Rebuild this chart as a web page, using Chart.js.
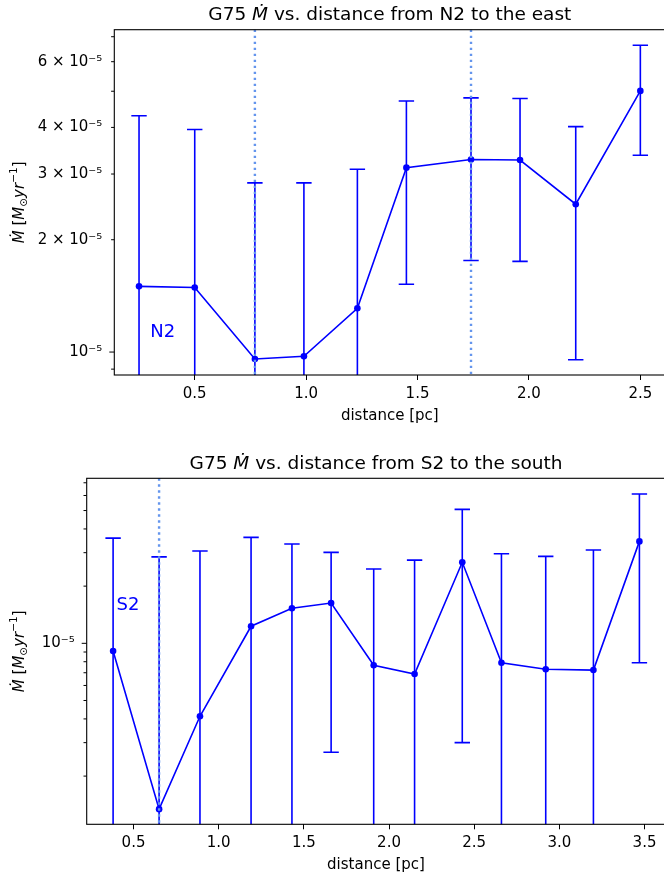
<!DOCTYPE html>
<html>
<head>
<meta charset="utf-8">
<script src="https://cdn.jsdelivr.net/npm/chart.js@4.4.1/dist/chart.umd.min.js"></script>
<style>
    html, body { margin: 0; padding: 0; background: #fff; width: 664px; height: 882px; overflow: hidden; }
    .plot { position: absolute; left: 0; width: 670px; height: 441px; }
</style>
</head>
<body>
<div class="plot" style="top:0"><canvas id="north" width="670" height="441"></canvas></div>
<div class="plot" style="top:441px"><canvas id="south" width="670" height="441"></canvas></div>
<script>
// N2 -> east
const nDist = [0.25, 0.50, 0.77, 0.99, 1.23, 1.45, 1.74, 1.96, 2.21, 2.50];
const nMdot = [1.50e-5, 1.49e-5, 0.958e-5, 0.974e-5, 1.31e-5, 3.12e-5, 3.28e-5, 3.27e-5, 2.49e-5, 5.01e-5];
const nUpper = [4.30e-5, 3.95e-5, 2.84e-5, 2.84e-5, 3.09e-5, 4.71e-5, 4.80e-5, 4.78e-5, 4.02e-5, 6.64e-5];
const nLower = [null, null, null, null, null, 1.52e-5, 1.76e-5, 1.75e-5, 0.954e-5, 3.37e-5]; // null = below the axis
const nMarks = [0.77, 1.74];
const nXLim = [0.139, 2.612];
const nYLim = [8.68e-6, 7.31e-5];
const nXTicks = [0.5, 1.0, 1.5, 2.0, 2.5];
const nYTicks = [7e-5, 6e-5, 5e-5, 4e-5, 3e-5, 2e-5, 1e-5, 9e-6];
const nYLabels = ['', '6 × 10⁻⁵', '', '4 × 10⁻⁵', '3 × 10⁻⁵', '2 × 10⁻⁵', '10⁻⁵', ''];

// S2 -> south
const sDist = [0.38, 0.65, 0.89, 1.19, 1.43, 1.66, 1.91, 2.15, 2.43, 2.66, 2.92, 3.20, 3.47];
const sMdot = [9.1e-6, 1.34e-6, 4.13e-6, 1.23e-5, 1.53e-5, 1.63e-5, 7.66e-6, 6.89e-6, 2.67e-5, 7.9e-6, 7.3e-6, 7.23e-6, 3.44e-5];
const sUpper = [3.58e-5, 2.85e-5, 3.06e-5, 3.61e-5, 3.33e-5, 3.01e-5, 2.46e-5, 2.74e-5, 5.07e-5, 2.96e-5, 2.87e-5, 3.10e-5, 6.11e-5];
const sLower = [null, null, null, null, null, 2.67e-6, null, null, 3.0e-6, null, null, null, 7.9e-6];
const sMarks = [0.65];
const sXLim = [0.225, 3.622];
const sYLim = [1.115e-6, 7.39e-5];
const sXTicks = [0.5, 1.0, 1.5, 2.0, 2.5, 3.0, 3.5];
const sYTicks = [7e-5, 6e-5, 5e-5, 4e-5, 3e-5, 2e-5, 1e-5, 9e-6, 8e-6, 7e-6, 6e-6, 5e-6, 4e-6, 3e-6, 2e-6];
const sYLabels = ['', '', '', '', '', '', '10⁻⁵', '', '', '', '', '', '', '', ''];

const FAM = "'DejaVu Sans', sans-serif";
const BLUE = '#0000ff';

function partFont(p, size) {
    const s = (p.sub || p.sup) ? size * 0.7 : size;
    return (p.it ? 'italic ' : '') + s + 'px ' + FAM;
}

// draws mixed italic / sub / sup text, anchored at centre, alphabetic baseline
function drawRich(ctx, parts, x, y, size) {
    let w = 0;
    parts.forEach(p => { ctx.font = partFont(p, size); w += ctx.measureText(p.t).width; });
    let cx = x - w / 2;
    ctx.textAlign = 'left';
    ctx.textBaseline = 'alphabetic';
    parts.forEach(p => {
        ctx.font = partFont(p, size);
        const dy = p.sub ? size * 0.22 : p.sup ? -size * 0.42 : 0;
        ctx.fillText(p.t, cx, y + dy);
        cx += ctx.measureText(p.t).width;
    });
}

const yLabelParts = [
    { t: 'Ṁ', it: true }, { t: ' [' }, { t: 'M', it: true }, { t: '⊙', sub: true },
    { t: 'yr', it: true }, { t: '−1', sup: true }, { t: ']' }
];

const decorate = {
    id: 'decorate',
    beforeDatasetsDraw(chart, args, o) {
        const { ctx, chartArea: a, scales: { x, y } } = chart;
        ctx.save();
        ctx.beginPath();
        ctx.rect(a.left, a.top, a.right - a.left, a.bottom - a.top);
        ctx.clip();
        ctx.strokeStyle = BLUE;
        ctx.lineWidth = 1.6;
        o.dist.forEach((d, i) => {
            const px = x.getPixelForValue(d);
            const top = y.getPixelForValue(o.upper[i]);
            const bot = o.lower[i] == null ? a.bottom + 2 : y.getPixelForValue(o.lower[i]);
            ctx.beginPath();
            ctx.moveTo(px, top); ctx.lineTo(px, bot);
            ctx.moveTo(px - 7.7, top); ctx.lineTo(px + 7.7, top);
            if (o.lower[i] != null) { ctx.moveTo(px - 7.7, bot); ctx.lineTo(px + 7.7, bot); }
            ctx.stroke();
        });
        ctx.restore();
    },
    afterDatasetsDraw(chart, args, o) {
        const { ctx, chartArea: a, scales: { x, y } } = chart;
        ctx.save();
        // dotted markers
        ctx.strokeStyle = '#6495ed';
        ctx.lineWidth = 2.4;
        ctx.setLineDash([2.4, 3.6]);
        o.marks.forEach(m => {
            const px = x.getPixelForValue(m);
            ctx.beginPath(); ctx.moveTo(px, a.top); ctx.lineTo(px, a.bottom); ctx.stroke();
        });
        ctx.setLineDash([]);
        // tag
        ctx.fillStyle = BLUE;
        ctx.font = '18px ' + FAM;
        ctx.textAlign = 'left';
        ctx.textBaseline = 'alphabetic';
        ctx.fillText(o.tag, x.getPixelForValue(o.tagAt[0]), y.getPixelForValue(o.tagAt[1]));
        ctx.restore();
    },
    afterDraw(chart, args, o) {
        const { ctx, chartArea: a, scales: { y } } = chart;
        ctx.save();
        // frame
        ctx.strokeStyle = '#000';
        ctx.lineWidth = 1.1;
        ctx.strokeRect(a.left, a.top, a.right - a.left, a.bottom - a.top);
        // y ticks, longer at decades
        ctx.lineWidth = 1;
        y.ticks.forEach(t => {
            const py = y.getPixelForValue(t.value);
            const lg = Math.log10(t.value);
            const len = Math.abs(lg - Math.round(lg)) < 1e-6 ? 5 : 3.2;
            ctx.beginPath(); ctx.moveTo(a.left - len, py); ctx.lineTo(a.left, py); ctx.stroke();
        });
        ctx.fillStyle = '#000';
        // title
        drawRich(ctx, [{ t: 'G75 ' }, { t: 'Ṁ', it: true }, { t: o.title }], (a.left + a.right) / 2, a.top - 9.6, 18.5);
        // x label
        drawRich(ctx, [{ t: 'distance [pc]' }], (a.left + a.right) / 2, a.bottom + 44.5, 15);
        // y label
        ctx.translate(23.5, (a.top + a.bottom) / 2);
        ctx.rotate(-Math.PI / 2);
        drawRich(ctx, yLabelParts, 0, 0, 15);
        ctx.restore();
    }
};

function makeChart(id, d) {
    return new Chart(document.getElementById(id), {
        type: 'line',
        data: {
            datasets: [{
                data: d.dist.map((v, i) => ({ x: v, y: d.mdot[i] })),
                borderColor: BLUE,
                backgroundColor: BLUE,
                borderWidth: 1.6,
                pointRadius: 3.3,
                pointBorderWidth: 0,
                pointBackgroundColor: BLUE,
                tension: 0
            }]
        },
        options: {
            responsive: false,
            animation: false,
            events: [],
            layout: { padding: { top: d.area.top, right: 670 - d.area.right, left: 0, bottom: 0 } },
            plugins: {
                legend: { display: false },
                tooltip: { enabled: false },
                decorate: {
                    dist: d.dist, upper: d.upper, lower: d.lower, marks: d.marks,
                    tag: d.tag, tagAt: d.tagAt, title: d.title
                }
            },
            scales: {
                x: {
                    type: 'linear',
                    min: d.xlim[0], max: d.xlim[1],
                    afterBuildTicks: s => { s.ticks = d.xticks.map(v => ({ value: v })); },
                    afterFit: s => { s.height = 441 - d.area.bottom; },
                    grid: { drawOnChartArea: false, drawTicks: true, tickLength: 5, color: '#000', lineWidth: 1 },
                    border: { display: false },
                    ticks: {
                        autoSkip: false, maxRotation: 0, padding: 5, color: '#000',
                        font: { family: FAM, size: 15 },
                        callback: v => v.toFixed(1)
                    }
                },
                y: {
                    type: 'logarithmic',
                    min: d.ylim[0], max: d.ylim[1],
                    afterBuildTicks: s => { s.ticks = d.yticks.map(v => ({ value: v })); },
                    afterFit: s => { s.width = d.area.left; },
                    grid: { drawOnChartArea: false, drawTicks: false },
                    border: { display: false },
                    ticks: {
                        autoSkip: false, padding: 12, color: '#000',
                        font: { family: FAM, size: 15 },
                        callback: (v, i) => d.ylabels[i]
                    }
                }
            }
        },
        plugins: [decorate]
    });
}

makeChart('north', {
    dist: nDist, mdot: nMdot, upper: nUpper, lower: nLower, marks: nMarks,
    xlim: nXLim, ylim: nYLim, xticks: nXTicks, yticks: nYTicks, ylabels: nYLabels,
    tag: 'N2', tagAt: [0.3, 1.1e-5],
    title: ' vs. distance from N2 to the east',
    area: { left: 114.3, right: 665.3, top: 29.7, bottom: 375 }
});

makeChart('south', {
    dist: sDist, mdot: sMdot, upper: sUpper, lower: sLower, marks: sMarks,
    xlim: sXLim, ylim: sYLim, xticks: sXTicks, yticks: sYTicks, ylabels: sYLabels,
    tag: 'S2', tagAt: [0.4, 1.5e-5],
    title: ' vs. distance from S2 to the south',
    area: { left: 86.7, right: 665.3, top: 37.3, bottom: 383.3 }
});
</script>
</body>
</html>
